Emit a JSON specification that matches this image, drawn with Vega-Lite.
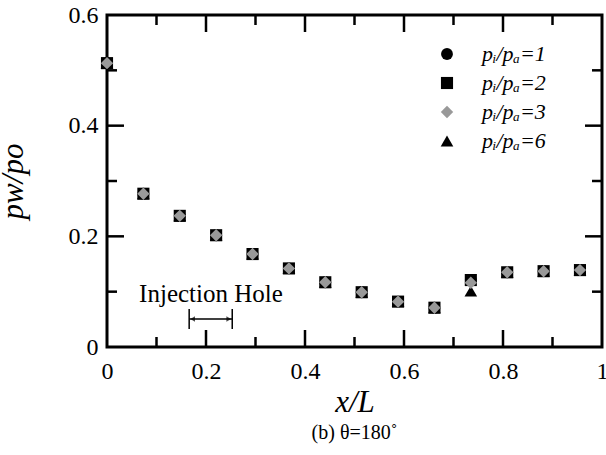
{
  "$schema": "https://vega.github.io/schema/vega-lite/v6.json",
  "width": 495,
  "height": 332,
  "autosize": {"type": "none"},
  "padding": {"left": 107, "top": 15, "right": 4, "bottom": 108},
  "background": "white",
  "config": {
    "font": "Liberation Serif",
    "view": {"stroke": "black", "strokeWidth": 3},
    "axis": {
      "domain": false,
      "grid": false,
      "ticks": false,
      "labelFont": "Liberation Serif",
      "labelFontSize": 24,
      "labelColor": "black",
      "titleFont": "Liberation Serif",
      "titleFontStyle": "italic",
      "titleFontWeight": "normal",
      "titleFontSize": 31,
      "titleColor": "black"
    }
  },
  "title": {
    "text": "(b) θ=180˚",
    "orient": "bottom",
    "fontSize": 20,
    "fontWeight": "normal",
    "font": "Liberation Serif",
    "color": "black",
    "anchor": "middle",
    "offset": 6
  },
  "datasets": {
    "pts": [
      {"x": 0, "y": 0.513, "series": "1"},
      {"x": 0.0735, "y": 0.277, "series": "1"},
      {"x": 0.147, "y": 0.237, "series": "1"},
      {"x": 0.2205, "y": 0.202, "series": "1"},
      {"x": 0.294, "y": 0.168, "series": "1"},
      {"x": 0.3675, "y": 0.142, "series": "1"},
      {"x": 0.441, "y": 0.117, "series": "1"},
      {"x": 0.5145, "y": 0.099, "series": "1"},
      {"x": 0.588, "y": 0.082, "series": "1"},
      {"x": 0.6615, "y": 0.071, "series": "1"},
      {"x": 0.735, "y": 0.121, "series": "1"},
      {"x": 0.8085, "y": 0.135, "series": "1"},
      {"x": 0.882, "y": 0.137, "series": "1"},
      {"x": 0.9555, "y": 0.139, "series": "1"},
      {"x": 0, "y": 0.513, "series": "2"},
      {"x": 0.0735, "y": 0.277, "series": "2"},
      {"x": 0.147, "y": 0.237, "series": "2"},
      {"x": 0.2205, "y": 0.202, "series": "2"},
      {"x": 0.294, "y": 0.168, "series": "2"},
      {"x": 0.3675, "y": 0.142, "series": "2"},
      {"x": 0.441, "y": 0.117, "series": "2"},
      {"x": 0.5145, "y": 0.099, "series": "2"},
      {"x": 0.588, "y": 0.082, "series": "2"},
      {"x": 0.6615, "y": 0.071, "series": "2"},
      {"x": 0.735, "y": 0.121, "series": "2"},
      {"x": 0.8085, "y": 0.135, "series": "2"},
      {"x": 0.882, "y": 0.137, "series": "2"},
      {"x": 0.9555, "y": 0.139, "series": "2"},
      {"x": 0, "y": 0.513, "series": "6"},
      {"x": 0.0735, "y": 0.277, "series": "6"},
      {"x": 0.147, "y": 0.237, "series": "6"},
      {"x": 0.2205, "y": 0.202, "series": "6"},
      {"x": 0.294, "y": 0.168, "series": "6"},
      {"x": 0.3675, "y": 0.142, "series": "6"},
      {"x": 0.441, "y": 0.117, "series": "6"},
      {"x": 0.5145, "y": 0.099, "series": "6"},
      {"x": 0.588, "y": 0.082, "series": "6"},
      {"x": 0.6615, "y": 0.071, "series": "6"},
      {"x": 0.735, "y": 0.101, "series": "6"},
      {"x": 0.8085, "y": 0.135, "series": "6"},
      {"x": 0.882, "y": 0.137, "series": "6"},
      {"x": 0.9555, "y": 0.139, "series": "6"},
      {"x": 0, "y": 0.513, "series": "3"},
      {"x": 0.0735, "y": 0.277, "series": "3"},
      {"x": 0.147, "y": 0.237, "series": "3"},
      {"x": 0.2205, "y": 0.202, "series": "3"},
      {"x": 0.294, "y": 0.168, "series": "3"},
      {"x": 0.3675, "y": 0.142, "series": "3"},
      {"x": 0.441, "y": 0.117, "series": "3"},
      {"x": 0.5145, "y": 0.099, "series": "3"},
      {"x": 0.588, "y": 0.082, "series": "3"},
      {"x": 0.6615, "y": 0.071, "series": "3"},
      {"x": 0.735, "y": 0.116, "series": "3"},
      {"x": 0.8085, "y": 0.135, "series": "3"},
      {"x": 0.882, "y": 0.137, "series": "3"},
      {"x": 0.9555, "y": 0.139, "series": "3"}
    ]
  },
  "layer": [
    {
      "data": {"name": "pts"},
      "mark": {"type": "point", "filled": true, "opacity": 1},
      "encoding": {
        "x": {
          "field": "x", "type": "quantitative",
          "scale": {"domain": [0, 1], "nice": false, "zero": false},
          "axis": {
            "orient": "bottom",
            "title": "x/L",
            "titlePadding": 4,
            "values": [0, 0.2, 0.4, 0.6, 0.8, 1],
            "format": "~g",
            "labelPadding": 12,
            "labelFlush": false
          }
        },
        "y": {
          "field": "y", "type": "quantitative",
          "scale": {"domain": [0, 0.6], "nice": false, "zero": false},
          "axis": {
            "orient": "left",
            "title": "pw/po",
            "titlePadding": 39,
            "values": [0, 0.2, 0.4, 0.6],
            "format": "~g",
            "labelPadding": 9,
            "labelFlush": false
          }
        },
        "shape": {
          "field": "series", "type": "nominal",
          "scale": {"domain": ["1", "2", "3", "6"], "range": ["circle", "square", "diamond", "triangle-up"]},
          "legend": {
            "title": null,
            "orient": "none",
            "legendX": 329,
            "legendY": 28,
            "padding": 0,
            "symbolSize": 150,
            "labelFontSize": 22,
            "labelFontStyle": "italic",
            "labelFont": "Liberation Serif",
            "labelColor": "black",
            "labelOffset": 24,
            "rowPadding": 7,
            "labelExpr": "'pᵢ/pₐ=' + datum.label"
          }
        },
        "color": {
          "field": "series", "type": "nominal",
          "scale": {"domain": ["1", "2", "3", "6"], "range": ["black", "black", "#999999", "black"]},
          "legend": {
            "title": null,
            "orient": "none",
            "legendX": 329,
            "legendY": 28,
            "padding": 0,
            "symbolSize": 150,
            "labelFontSize": 22,
            "labelFontStyle": "italic",
            "labelFont": "Liberation Serif",
            "labelColor": "black",
            "labelOffset": 24,
            "rowPadding": 7,
            "labelExpr": "'pᵢ/pₐ=' + datum.label"
          }
        },
        "size": {
          "field": "series", "type": "nominal",
          "scale": {"domain": ["1", "2", "3", "6"], "range": [140, 160, 40, 130]},
          "legend": null
        }
      }
    },
    {
      "data": {"values": [{"tx": 0.21, "ty": 0.081, "label": "Injection Hole"}]},
      "mark": {"type": "text", "font": "Liberation Serif", "fontSize": 25, "color": "black", "align": "center", "baseline": "alphabetic"},
      "encoding": {
        "x": {"field": "tx", "type": "quantitative", "axis": null},
        "y": {"field": "ty", "type": "quantitative", "axis": null},
        "text": {"field": "label"}
      }
    },
    {
      "data": {"values": [
        {"hx1": 0.166, "hx2": 0.253, "hy1": 0.0506, "hy2": 0.0506},
        {"hx1": 0.166, "hx2": 0.166, "hy1": 0.0325, "hy2": 0.0687},
        {"hx1": 0.253, "hx2": 0.253, "hy1": 0.0325, "hy2": 0.0687}
      ]},
      "mark": {"type": "rule", "color": "black", "strokeWidth": 1.5},
      "encoding": {
        "x": {"field": "hx1", "type": "quantitative", "axis": null},
        "x2": {"field": "hx2"},
        "y": {"field": "hy1", "type": "quantitative", "axis": null},
        "y2": {"field": "hy2"}
      }
    },
    {
      "data": {"values": [{"ax": 0.173, "ay": 0.0506}]},
      "mark": {"type": "point", "filled": true, "color": "black", "size": 30, "shape": "triangle-left"},
      "encoding": {
        "x": {"field": "ax", "type": "quantitative", "axis": null},
        "y": {"field": "ay", "type": "quantitative", "axis": null}
      }
    },
    {
      "data": {"values": [{"ax": 0.246, "ay": 0.0506}]},
      "mark": {"type": "point", "filled": true, "color": "black", "size": 30, "shape": "triangle-right"},
      "encoding": {
        "x": {"field": "ax", "type": "quantitative", "axis": null},
        "y": {"field": "ay", "type": "quantitative", "axis": null}
      }
    },
    {
      "data": {"values": [
        {"fx1": 0.2, "fx2": 0.2, "fy1": 0, "fy2": 0.0307},
        {"fx1": 0.4, "fx2": 0.4, "fy1": 0, "fy2": 0.0307},
        {"fx1": 0.6, "fx2": 0.6, "fy1": 0, "fy2": 0.0307},
        {"fx1": 0.8, "fx2": 0.8, "fy1": 0, "fy2": 0.0307},
        {"fx1": 0.1, "fx2": 0.1, "fy1": 0, "fy2": 0.0181},
        {"fx1": 0.3, "fx2": 0.3, "fy1": 0, "fy2": 0.0181},
        {"fx1": 0.5, "fx2": 0.5, "fy1": 0, "fy2": 0.0181},
        {"fx1": 0.7, "fx2": 0.7, "fy1": 0, "fy2": 0.0181},
        {"fx1": 0.9, "fx2": 0.9, "fy1": 0, "fy2": 0.0181},
        {"fx1": 0.2, "fx2": 0.2, "fy1": 0.6, "fy2": 0.5693},
        {"fx1": 0.4, "fx2": 0.4, "fy1": 0.6, "fy2": 0.5693},
        {"fx1": 0.6, "fx2": 0.6, "fy1": 0.6, "fy2": 0.5693},
        {"fx1": 0.8, "fx2": 0.8, "fy1": 0.6, "fy2": 0.5693},
        {"fx1": 0.1, "fx2": 0.1, "fy1": 0.6, "fy2": 0.5819},
        {"fx1": 0.3, "fx2": 0.3, "fy1": 0.6, "fy2": 0.5819},
        {"fx1": 0.5, "fx2": 0.5, "fy1": 0.6, "fy2": 0.5819},
        {"fx1": 0.7, "fx2": 0.7, "fy1": 0.6, "fy2": 0.5819},
        {"fx1": 0.9, "fx2": 0.9, "fy1": 0.6, "fy2": 0.5819},
        {"fx1": 0, "fx2": 0.0343, "fy1": 0.2, "fy2": 0.2},
        {"fx1": 0, "fx2": 0.0343, "fy1": 0.4, "fy2": 0.4},
        {"fx1": 0, "fx2": 0.0202, "fy1": 0.1, "fy2": 0.1},
        {"fx1": 0, "fx2": 0.0202, "fy1": 0.3, "fy2": 0.3},
        {"fx1": 0, "fx2": 0.0202, "fy1": 0.5, "fy2": 0.5},
        {"fx1": 1, "fx2": 0.9657, "fy1": 0.2, "fy2": 0.2},
        {"fx1": 1, "fx2": 0.9657, "fy1": 0.4, "fy2": 0.4},
        {"fx1": 1, "fx2": 0.9798, "fy1": 0.1, "fy2": 0.1},
        {"fx1": 1, "fx2": 0.9798, "fy1": 0.3, "fy2": 0.3},
        {"fx1": 1, "fx2": 0.9798, "fy1": 0.5, "fy2": 0.5}
      ]},
      "mark": {"type": "rule", "color": "black", "strokeWidth": 2.5},
      "encoding": {
        "x": {"field": "fx1", "type": "quantitative", "axis": null},
        "x2": {"field": "fx2"},
        "y": {"field": "fy1", "type": "quantitative", "axis": null},
        "y2": {"field": "fy2"}
      }
    }
  ],
  "resolve": {"axis": {"x": "independent", "y": "independent"}}
}
